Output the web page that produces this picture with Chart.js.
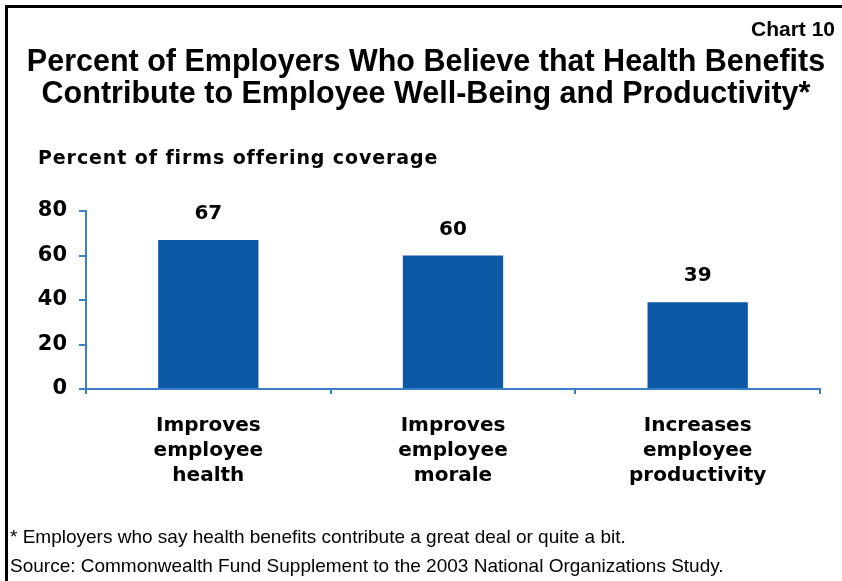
<!DOCTYPE html>
<html>
<head>
    <title>Percent of Employers Who Believe that Health Benefits Contribute to Employee Well-Being and Productivity</title>
    <style>
        body { margin: 0; background: #fff; }
        #frame { position: relative; width: 842px; height: 581px; overflow: hidden; }
        #frame .edge-top { position: absolute; left: 5px; top: 5px; width: 837px; height: 3px; background: #000; }
        #frame .edge-left { position: absolute; left: 5px; top: 5px; width: 3px; height: 576px; background: #000; }
        .txt { position: absolute; color: #000; white-space: nowrap; }
        #chartNo { right: 7px; top: 17px; font: bold 21px "Liberation Sans", Arial, sans-serif; }
        #heading { left: 10px; width: 832px; top: 44px; text-align: center; font: bold 30.5px/32px "Liberation Sans", Arial, sans-serif; }
        #unitLabel { left: 38px; top: 146px; font: bold 19px "DejaVu Sans", Verdana, sans-serif; letter-spacing: 0.9px; }
        .note { left: 10px; font: 19px/22px "Liberation Sans", Arial, sans-serif; }
        #chartBox { position: absolute; left: 0; top: 0; width: 842px; height: 581px; }
    </style>
    <script src="https://cdn.jsdelivr.net/npm/chart.js"></script>
</head>
<body>
<div id="frame">
    <div class="edge-top"></div>
    <div class="edge-left"></div>
    <div id="chartBox"><canvas id="benefitsChart"></canvas></div>
    <div class="txt" id="chartNo">Chart 10</div>
    <div class="txt" id="heading">Percent of Employers Who Believe that Health Benefits<br>Contribute to Employee Well-Being and Productivity*</div>
    <div class="txt" id="unitLabel">Percent of firms offering coverage</div>
    <div class="txt note" style="top:526px">* Employers who say health benefits contribute a great deal or quite a bit.</div>
    <div class="txt note" style="top:555px">Source: Commonwealth Fund Supplement to the 2003 National Organizations Study.</div>
</div>

<script>
    const categories = [
        ['Improves', 'employee', 'health'],
        ['Improves', 'employee', 'morale'],
        ['Increases', 'employee', 'productivity']
    ];
    const percentValues = [67, 60, 39];
    const yTicks = [0, 20, 40, 60, 80];

    const barBlue = '#0c5aa6';
    const axisBlue = '#3d7fc6';
    const boldFace = '"DejaVu Sans", Verdana, sans-serif';

    // value printed above each bar
    const valueLabels = {
        id: 'valueLabels',
        afterDatasetsDraw(chart) {
            const ctx = chart.ctx;
            const meta = chart.getDatasetMeta(0);
            ctx.save();
            ctx.fillStyle = '#000';
            ctx.font = 'bold 20px ' + boldFace;
            ctx.textAlign = 'center';
            ctx.textBaseline = 'middle';
            meta.data.forEach((bar, i) => {
                ctx.fillText(percentValues[i], bar.x, bar.y - 26);
            });
            ctx.restore();
        }
    };

    new Chart(document.getElementById('benefitsChart'), {
        type: 'bar',
        data: {
            labels: categories,
            datasets: [{
                data: percentValues,
                backgroundColor: barBlue,
                borderWidth: 0,
                categoryPercentage: 1,
                barPercentage: 0.41
            }]
        },
        options: {
            responsive: true,
            maintainAspectRatio: false,
            animation: false,
            layout: { padding: { top: 211, right: 22, left: 0, bottom: 0 } },
            plugins: {
                legend: { display: false },
                tooltip: { enabled: false }
            },
            scales: {
                x: {
                    afterFit: scale => { scale.height = 192; },
                    border: { color: axisBlue, width: 2 },
                    grid: {
                        offset: true,
                        drawOnChartArea: false,
                        drawTicks: true,
                        tickLength: 5,
                        color: axisBlue,
                        lineWidth: 2
                    },
                    ticks: {
                        color: '#000',
                        padding: 19,
                        maxRotation: 0,
                        autoSkip: false,
                        font: { family: boldFace, size: 20, weight: 'bold', lineHeight: 1.25 }
                    }
                },
                y: {
                    min: 0,
                    max: 80,
                    afterFit: scale => { scale.width = 86; },
                    afterBuildTicks: scale => { scale.ticks = yTicks.map(v => ({ value: v })); },
                    border: { color: axisBlue, width: 2 },
                    grid: {
                        drawOnChartArea: false,
                        drawTicks: true,
                        tickLength: 7,
                        color: axisBlue,
                        lineWidth: 2
                    },
                    ticks: {
                        color: '#000',
                        padding: 12,
                        font: { family: boldFace, size: 21, weight: 'bold' }
                    }
                }
            }
        },
        plugins: [valueLabels]
    });
</script>
</body>
</html>
